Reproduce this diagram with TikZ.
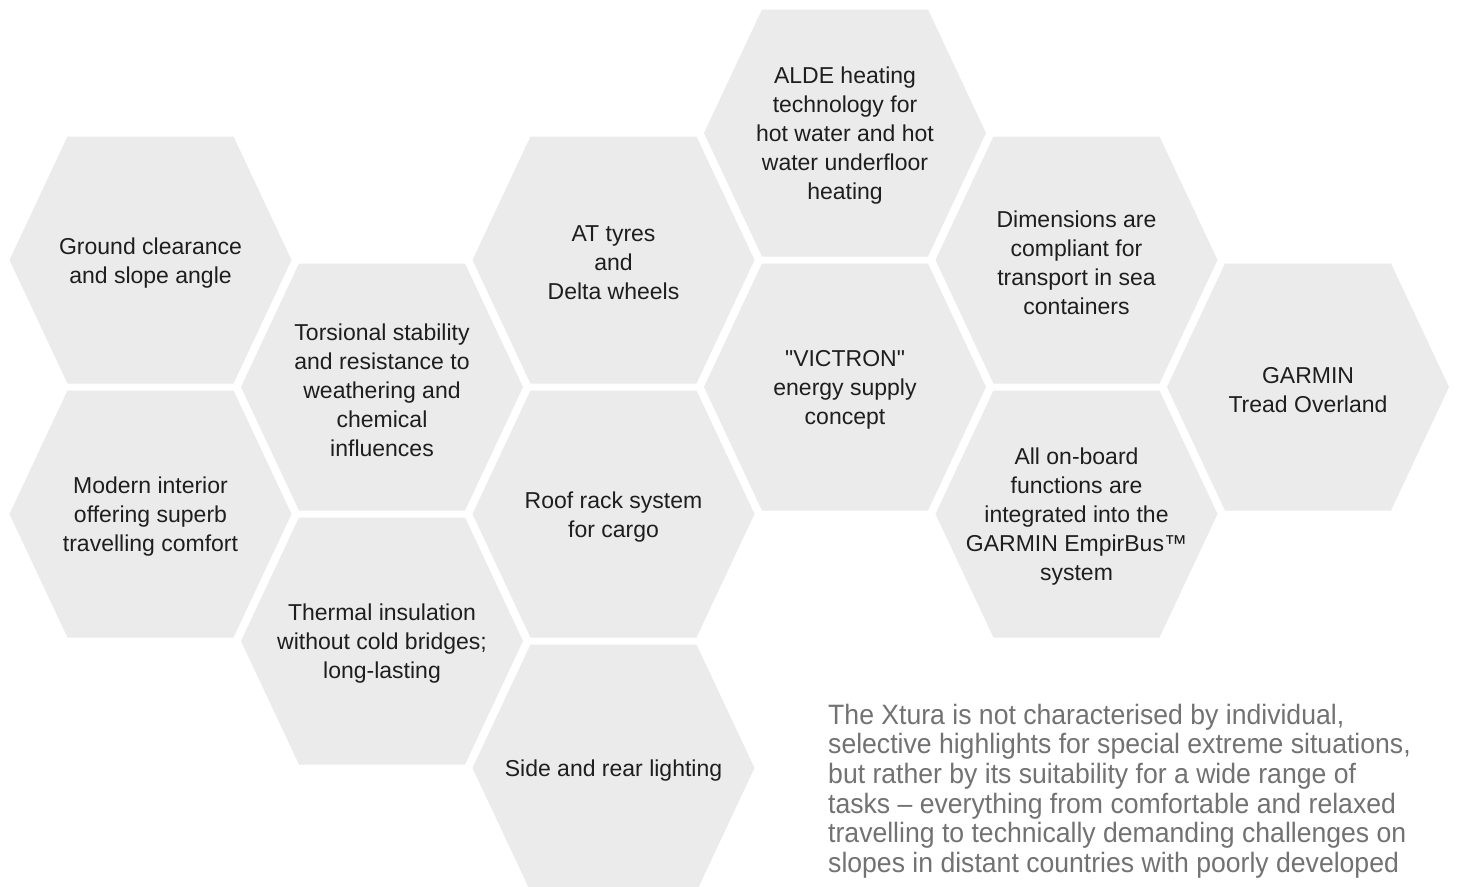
\documentclass[tikz,border=0pt]{standalone}
\usepackage{fontspec}
\setmainfont{Liberation Sans}
\newfontfamily\hexfont{Liberation Sans}
\newfontfamily\parafont[FakeStretch=0.95]{Liberation Sans}
\definecolor{hexgrey}{HTML}{EBEBEB}
\definecolor{hexink}{HTML}{1E1E1E}
\definecolor{paraink}{HTML}{727272}
\newcommand\hexcell[4]{%
  \fill[hexfill] (#1-141,#2) -- (#1-83,#2-123.5) -- (#1+83,#2-123.5) -- (#1+141,#2)
    -- (#1+83,#2+123.5) -- (#1-83,#2+123.5) -- cycle;
  \node[hextext] (#3) at (#1,#2+3) {#4};
}
\begin{document}
\begin{tikzpicture}[x=1pt,y=-1pt,
  hexfill/.style={fill=hexgrey},
  hextext/.style={align=center, text=hexink, font=\hexfont\fontsize{23}{29}\selectfont, inner sep=0pt},
  paratext/.style={align=left, text=paraink, font=\parafont\fontsize{28}{29.7}\selectfont, inner sep=0pt, anchor=base west}]
\useasboundingbox (0,0) rectangle (1458,886);
\clip (0,0) rectangle (1458,886);
\fill[white] (0,0) rectangle (1458,886);
\hexcell{150.5}{260}{ground}{Ground clearance\\and slope angle}
\hexcell{150.5}{514}{interior}{Modern interior\\offering superb\\travelling comfort}
\hexcell{382}{387}{torsion}{Torsional stability\\and resistance to\\weathering and\\chemical\\influences}
\hexcell{382}{641}{thermal}{Thermal insulation\\without cold bridges;\\long-lasting}
\hexcell{613.5}{260}{tyres}{AT tyres\\and\\Delta wheels}
\hexcell{613.5}{514}{roof}{Roof rack system\\for cargo}
\hexcell{613.5}{768}{light}{Side and rear lighting}
\hexcell{845}{133}{alde}{ALDE heating\\technology for\\hot water and hot\\water underfloor\\heating}
\hexcell{845}{387}{victron}{"VICTRON"\\energy supply\\concept}
\hexcell{1076.5}{260}{dims}{Dimensions are\\compliant for\\transport in sea\\containers}
\hexcell{1076.5}{514}{onboard}{All on-board\\functions are\\integrated into the\\GARMIN EmpirBus™\\system}
\hexcell{1308}{387}{garmin}{GARMIN\\Tread Overland}
\node[paratext] (para) at (828,872.5) {The Xtura is not characterised by individual,\\selective highlights for special extreme situations,\\but rather by its suitability for a wide range of\\tasks – everything from comfortable and relaxed\\travelling to technically demanding challenges on\\slopes in distant countries with poorly developed};
\end{tikzpicture}
\end{document}
